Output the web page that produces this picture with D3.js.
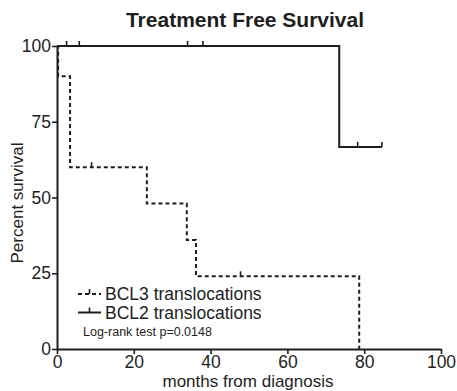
<!DOCTYPE html>
<html>
<head>
<meta charset="utf-8">
<script src="https://cdn.jsdelivr.net/npm/d3@7"></script>
<style>
  html, body { margin: 0; padding: 0; background: #fff; }
  svg { display: block; font-family: "Liberation Sans", Arial, sans-serif; }
</style>
</head>
<body>
<svg id="chart" width="457" height="391"></svg>
<script>
// Kaplan-Meier step curves: event times (months) and survival (%) after each step
const bcl3Times = [0, 0.3, 3.4, 23.4, 33.8, 36.2, 78.7];
const bcl3Surv  = [100, 90, 60, 48, 36, 24, 0];
const bcl3Censored = [9.0, 47.8];

const bcl2Times = [0, 73.5, 84.6];
const bcl2Surv  = [100, 66.7, 66.7];
const bcl2Censored = [2.5, 5.8, 34, 38, 78.3, 84.6];

const xTicks = [0, 20, 40, 60, 80, 100];
const yTicks = [0, 25, 50, 75, 100];

const seriesNames = ["BCL3 translocations", "BCL2 translocations"];

const svg = d3.select("#chart");
const ink = "#1e1e1e";

const x = d3.scaleLinear().domain([0, 100]).range([57, 441]);
const y = d3.scaleLinear().domain([0, 100]).range([349, 46]);

// Title
svg.append("text")
  .attr("x", 245).attr("y", 27)
  .attr("text-anchor", "middle")
  .attr("font-size", 21).attr("font-weight", "bold")
  .attr("fill", ink)
  .text("Treatment Free Survival");

// Axes
const xAxis = svg.append("g")
  .attr("transform", `translate(0,${y(0)})`)
  .call(d3.axisBottom(x).tickValues(xTicks).tickSize(5).tickSizeOuter(0).tickPadding(2));
const yAxis = svg.append("g")
  .attr("transform", `translate(${x(0)},0)`)
  .call(d3.axisLeft(y).tickValues(yTicks).tickSize(5).tickSizeOuter(0).tickPadding(1));

[xAxis, yAxis].forEach(g => {
  g.selectAll("path.domain").attr("stroke", ink).attr("stroke-width", 2);
  g.selectAll(".tick line").attr("stroke", ink).attr("stroke-width", 1.6);
  g.selectAll(".tick text")
    .attr("font-family", "Liberation Sans, Arial, sans-serif")
    .attr("font-size", 17.5).attr("fill", ink);
});

// Axis titles
svg.append("text")
  .attr("x", 248).attr("y", 387)
  .attr("text-anchor", "middle")
  .attr("font-size", 17).attr("fill", ink)
  .text("months from diagnosis");
svg.append("text")
  .attr("transform", "translate(23,203) rotate(-90)")
  .attr("text-anchor", "middle")
  .attr("font-size", 17).attr("fill", ink)
  .text("Percent survival");

// Survival curves
const line = d3.line()
  .x(d => x(d[0]))
  .y(d => y(d[1]))
  .curve(d3.curveStepAfter);

function drawCurve(times, surv, censored, dash) {
  const pts = times.map((t, i) => [t, surv[i]]);
  svg.append("path")
    .datum(pts)
    .attr("d", line)
    .attr("fill", "none")
    .attr("stroke", ink)
    .attr("stroke-width", 2)
    .attr("stroke-dasharray", dash);
  // survival at a given time for censor ticks
  const at = t => {
    let s = surv[0];
    for (let i = 0; i < times.length; i++) if (times[i] <= t) s = surv[i];
    return s;
  };
  svg.append("g").selectAll("line")
    .data(censored)
    .join("line")
    .attr("x1", d => x(d)).attr("x2", d => x(d))
    .attr("y1", d => y(at(d))).attr("y2", d => y(at(d)) - 5)
    .attr("stroke", ink).attr("stroke-width", 1.6);
}

drawCurve(bcl3Times, bcl3Surv, bcl3Censored, "4,3");
drawCurve(bcl2Times, bcl2Surv, bcl2Censored, null);

// Legend
const legend = svg.append("g");
const dashes = ["4,3", null];
seriesNames.forEach((name, i) => {
  const ly = 294 + i * 18.5;
  legend.append("line")
    .attr("x1", 78).attr("x2", 101).attr("y1", ly).attr("y2", ly)
    .attr("stroke", ink).attr("stroke-width", 2)
    .attr("stroke-dasharray", dashes[i]);
  legend.append("line")
    .attr("x1", 89.5).attr("x2", 89.5).attr("y1", ly).attr("y2", ly - 5)
    .attr("stroke", ink).attr("stroke-width", 1.6);
  legend.append("text")
    .attr("x", 105).attr("y", ly + 6)
    .attr("font-size", 17.5).attr("fill", ink)
    .text(name);
});
legend.append("text")
  .attr("x", 83).attr("y", 336)
  .attr("font-size", 12.5).attr("fill", ink)
  .text("Log-rank test p=0.0148");
</script>
</body>
</html>
